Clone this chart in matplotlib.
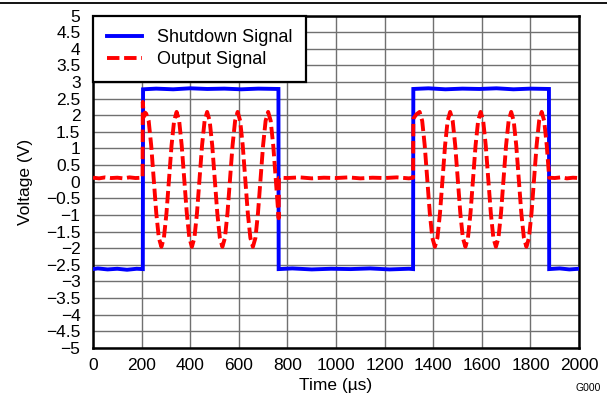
import matplotlib
matplotlib.use("Agg")
import matplotlib.pyplot as plt
from matplotlib.ticker import FuncFormatter, MultipleLocator
from matplotlib.lines import Line2D

plt.rcParams['font.family'] = ['Liberation Sans', 'DejaVu Sans']

# ---- data ----
shutdown_t = [0, 20, 60, 100, 140, 180, 205, 206, 260, 330, 400, 470, 540, 610, 680, 763,
              764, 820, 900, 980, 1060, 1140, 1220, 1300, 1317,
              1318, 1380, 1450, 1520, 1590, 1660, 1730, 1800, 1876,
              1877, 1920, 1960, 2000]
shutdown_v = [-2.63, -2.61, -2.64, -2.62, -2.65, -2.62, -2.63, 2.78, 2.80, 2.78, 2.81, 2.79, 2.80, 2.78, 2.80, 2.79,
              -2.63, -2.61, -2.64, -2.62, -2.63, -2.61, -2.64, -2.62, -2.63,
              2.79, 2.81, 2.78, 2.80, 2.79, 2.81, 2.78, 2.80, 2.79,
              -2.63, -2.61, -2.64, -2.62]

output_t = [0, 25, 50, 75, 100, 125, 150, 175, 204,
            205, 209, 214,
            218.6, 229.1, 239.5, 250.0, 260.4, 270.9, 281.4, 291.8, 302.3, 312.7, 323.2, 333.7,
            344.1, 354.6, 365.0, 375.5, 386.0, 396.4, 406.9, 417.3, 427.8, 438.3, 448.7, 459.2,
            469.6, 480.1, 490.6, 501.0, 511.5, 521.9, 532.4, 542.9, 553.3, 563.8, 574.2, 584.7,
            595.2, 605.6, 616.1, 626.5, 637.0, 647.5, 657.9, 668.4, 678.8, 689.3, 699.8, 710.2,
            720.7, 731.1, 741.6, 752.1, 762.5, 764,
            765, 800, 850, 900, 950, 1000, 1050, 1100, 1150, 1200, 1250, 1300, 1317,
            1318, 1331,
            1344.0, 1354.5, 1364.9, 1375.4, 1385.8, 1396.3, 1406.8, 1417.2, 1427.7, 1438.1, 1448.6, 1459.1,
            1469.5, 1480.0, 1490.4, 1500.9, 1511.4, 1521.8, 1532.3, 1542.7, 1553.2, 1563.7, 1574.1, 1584.6,
            1595.0, 1605.5, 1616.0, 1626.4, 1636.9, 1647.3, 1657.8, 1668.3, 1678.7, 1689.2, 1699.6, 1710.1,
            1720.6, 1731.0, 1741.5, 1751.9, 1762.4, 1772.9, 1783.3, 1793.8, 1804.2, 1814.7, 1825.2, 1835.6,
            1846.1, 1856.5, 1867.0, 1876,
            1877, 1900, 1925, 1950, 1975, 2000]
output_v = [0.12, 0.10, 0.13, 0.11, 0.12, 0.10, 0.13, 0.11, 0.12,
            2.40, 1.95, 2.08,
            2.05, 1.83, 1.09, 0.07, -0.95, -1.69, -1.96, -1.69, -0.95, 0.07, 1.09, 1.83,
            2.10, 1.83, 1.09, 0.07, -0.95, -1.69, -1.96, -1.69, -0.95, 0.07, 1.09, 1.83,
            2.10, 1.83, 1.09, 0.07, -0.95, -1.69, -1.96, -1.69, -0.95, 0.07, 1.09, 1.83,
            2.10, 1.83, 1.09, 0.07, -0.95, -1.69, -1.96, -1.69, -0.95, 0.07, 1.09, 1.83,
            2.10, 1.83, 1.09, 0.07, -0.95, -1.10,
            0.12, 0.11, 0.13, 0.10, 0.12, 0.11, 0.13, 0.10, 0.12, 0.11, 0.13, 0.10, 0.12,
            1.90, 2.03,
            2.10, 1.83, 1.09, 0.07, -0.95, -1.69, -1.96, -1.69, -0.95, 0.07, 1.09, 1.83,
            2.10, 1.83, 1.09, 0.07, -0.95, -1.69, -1.96, -1.69, -0.95, 0.07, 1.09, 1.83,
            2.10, 1.83, 1.09, 0.07, -0.95, -1.69, -1.96, -1.69, -0.95, 0.07, 1.09, 1.83,
            2.10, 1.83, 1.09, 0.07, -0.95, -1.69, -1.96, -1.69, -0.95, 0.07, 1.09, 1.83,
            2.10, 1.83, 1.09, 0.20,
            0.12, 0.11, 0.13, 0.10, 0.12, 0.11]

series_labels = ["Shutdown Signal", "Output Signal"]
x_label = "Time (µs)"
y_label = "Voltage (V)"
code_label = "G000"

# ---- figure ----
fig = plt.figure(figsize=(6.07, 3.98), dpi=100)
ax = fig.add_axes([0.1532, 0.126, 0.8008, 0.835])

ax.plot(shutdown_t, shutdown_v, color='#0000ff', lw=2.8, label=series_labels[0],
        solid_joinstyle='miter', zorder=3)
ax.plot(output_t, output_v, color='#ff0000', lw=2.8, ls=(0, (3.2, 1.2)),
        label=series_labels[1], zorder=4)

ax.set_xlim(0, 2000)
ax.set_ylim(-5, 5)
ax.xaxis.set_major_locator(MultipleLocator(200))
ax.yaxis.set_major_locator(MultipleLocator(0.5))
ax.yaxis.set_major_formatter(FuncFormatter(lambda v, p: ('%g' % v).replace('-', '\u2212')))
ax.tick_params(length=0, labelsize=12.5, pad=7)
ax.tick_params(axis='y', pad=9)

ax.grid(True, color='#707070', lw=1.0)
ax.set_axisbelow(True)
for s in ax.spines.values():
    s.set_linewidth(1.8)
    s.set_color('black')

ax.set_xlabel(x_label, fontsize=12.5, labelpad=4)
ax.set_ylabel(y_label, fontsize=12.5, labelpad=9)

leg = ax.legend(loc='upper left', borderaxespad=0, fontsize=13, fancybox=False,
                framealpha=1, edgecolor='black', handlelength=1.95, handletextpad=0.85,
                labelspacing=0.28, borderpad=0.75)
leg.get_frame().set_linewidth(1.6)
leg.set_zorder(10)

fig.add_artist(Line2D([0, 1], [0.992, 0.992], color='black', lw=1.3, transform=fig.transFigure))
fig.text(0.99, 0.012, code_label, fontsize=7.5, ha='right', va='bottom')

fig.savefig("out.png", dpi=100)
